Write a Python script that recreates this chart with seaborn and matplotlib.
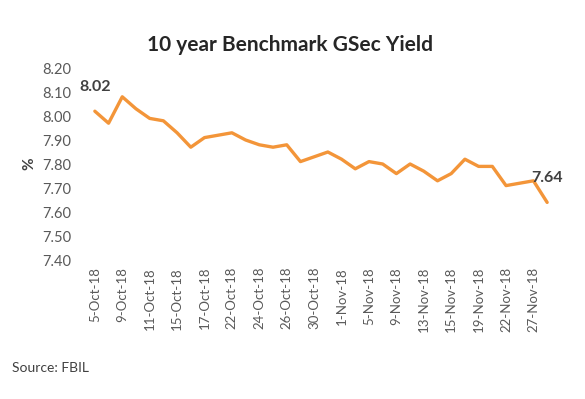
import matplotlib
matplotlib.use("Agg")
import matplotlib.pyplot as plt
import pandas as pd
import seaborn as sns

dates = ["5-Oct-18", "8-Oct-18", "9-Oct-18", "10-Oct-18", "11-Oct-18", "12-Oct-18",
         "15-Oct-18", "16-Oct-18", "17-Oct-18", "19-Oct-18", "22-Oct-18", "23-Oct-18",
         "24-Oct-18", "25-Oct-18", "26-Oct-18", "29-Oct-18", "30-Oct-18", "31-Oct-18",
         "1-Nov-18", "2-Nov-18", "5-Nov-18", "6-Nov-18", "9-Nov-18", "12-Nov-18",
         "13-Nov-18", "14-Nov-18", "15-Nov-18", "16-Nov-18", "19-Nov-18", "21-Nov-18",
         "22-Nov-18", "26-Nov-18", "27-Nov-18", "28-Nov-18"]
yields = [8.02, 7.97, 8.08, 8.03, 7.99, 7.98, 7.93, 7.87, 7.91, 7.92, 7.93, 7.90,
          7.88, 7.87, 7.88, 7.81, 7.83, 7.85, 7.82, 7.78, 7.81, 7.80, 7.76, 7.80,
          7.77, 7.73, 7.76, 7.82, 7.79, 7.79, 7.71, 7.72, 7.73, 7.64]
y_ticks = [7.40, 7.50, 7.60, 7.70, 7.80, 7.90, 8.00, 8.10, 8.20]

df = pd.DataFrame({"date": dates, "yield": yields})
df["pos"] = range(len(df))

sns.set_style("white")
plt.rcParams["font.family"] = ["Lato", "DejaVu Sans"]

grey = "#595959"
fig = plt.figure(figsize=(5.85, 3.99), dpi=100)
ax = fig.add_axes([88 / 585, 139 / 399, 466 / 585, 192 / 399])

sns.lineplot(data=df, x="pos", y="yield", ax=ax, color="#F39539", linewidth=2.4)

ax.set_xlim(-0.5, len(df) - 0.5)
ax.set_ylim(7.40, 8.20)
ax.set_yticks(y_ticks)
ax.set_yticklabels([f"{v:.2f}" for v in y_ticks], fontsize=10.5, color=grey)
ax.set_xticks(df["pos"][::2])
ax.set_xticklabels(df["date"][::2], rotation=90, fontsize=9.5, color=grey)
ax.tick_params(axis="y", length=0, pad=12)
ax.tick_params(axis="x", length=0, pad=5)
for s in ax.spines.values():
    s.set_visible(False)

ax.set_xlabel("")
ax.set_ylabel("%", fontsize=11, fontweight="bold", color="#404040", labelpad=4)

for i in [0, len(df) - 1]:
    ax.annotate(f"{yields[i]:.2f}", (i, yields[i]), xytext=(0, 24),
                textcoords="offset pixels", ha="center", va="center",
                fontsize=11.5, fontweight="bold", color="#404040")

fig.text(290 / 585, 1 - 45 / 399, "10 year Benchmark GSec Yield", ha="center",
         va="center", fontsize=15, fontweight="bold", color="#262626")
fig.text(12 / 585, 1 - 368 / 399, "Source: FBIL", ha="left", va="center",
         fontsize=10, color="#404040")

fig.savefig("out.png", dpi=100)
